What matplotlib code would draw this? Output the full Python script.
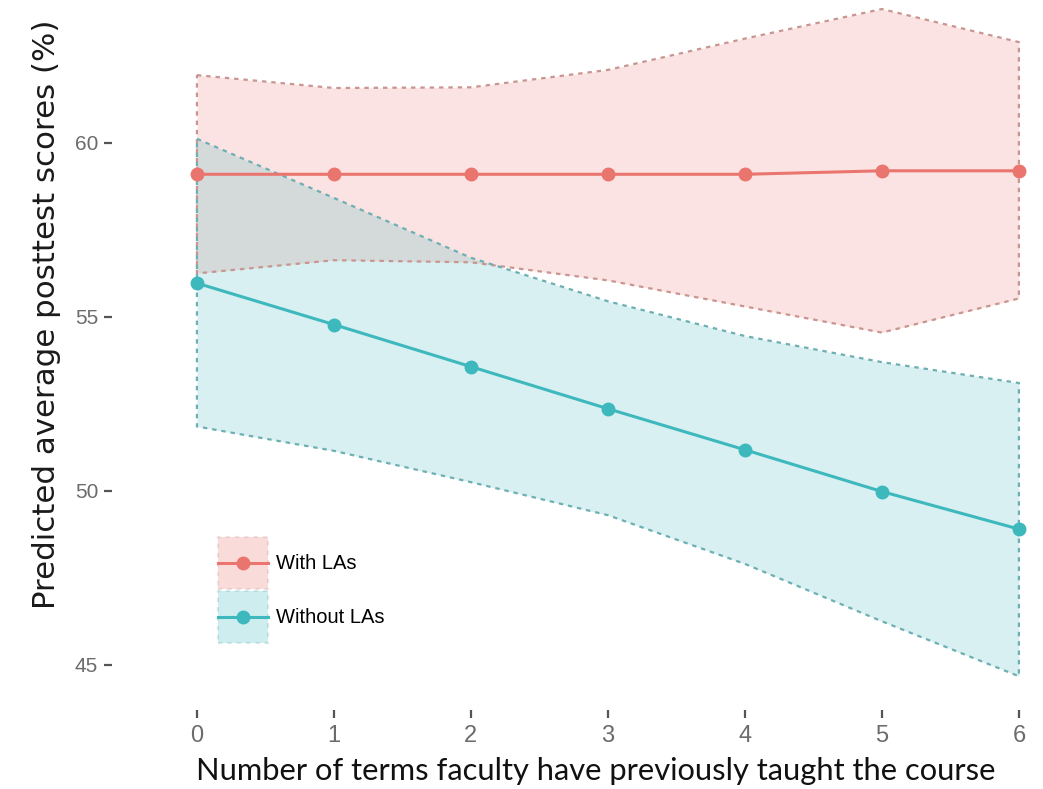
import matplotlib
matplotlib.use("Agg")
from matplotlib import pyplot as plt
from matplotlib.lines import Line2D
from matplotlib.patches import Patch
from matplotlib.legend_handler import HandlerLine2D

# Predicted posttest scores with 95% bands, by group
terms = [0, 1, 2, 3, 4, 5, 6]

with_mean = [59.1, 59.1, 59.1, 59.1, 59.1, 59.2, 59.2]
with_upper = [61.95, 61.58, 61.6, 62.1, 63.0, 63.85, 62.9]
with_lower = [56.25, 56.63, 56.57, 56.05, 55.3, 54.55, 55.53]

without_mean = [55.97, 54.78, 53.57, 52.36, 51.18, 49.98, 48.9]
without_upper = [60.12, 58.42, 56.7, 55.45, 54.45, 53.7, 53.1]
without_lower = [51.85, 51.15, 50.25, 49.3, 47.9, 46.25, 44.67]

labels = ["With LAs", "Without LAs"]
y_ticks = [45, 50, 55, 60]

red = "#E9756E"
teal = "#3DB8BD"
red_edge = "#C99590"
teal_edge = "#6DAFB3"


class CenteredLine(HandlerLine2D):
    # put the legend line in the middle of the key box
    def create_artists(self, legend, orig_handle, xdescent, ydescent,
                       width, height, fontsize, trans):
        artists = super().create_artists(legend, orig_handle, xdescent, ydescent,
                                         width, height, fontsize, trans)
        for a in artists:
            a.set_ydata([height / 2 - ydescent] * len(a.get_ydata()))
        return artists


W, H = 1043, 789
fig = plt.figure(figsize=(W / 100, H / 100), dpi=100)
fig.patch.set_facecolor("white")
# panel runs past the right and top edges of the canvas
ax = fig.add_axes([112 / W, (H - 710) / H, 948 / W, 734 / H])
ax.set_facecolor("white")

series = [
    (with_mean, with_upper, with_lower, red, red_edge),
    (without_mean, without_upper, without_lower, teal, teal_edge),
]

for mean, upper, lower, col, edge in series:
    ax.fill_between(terms, lower, upper, color=col, alpha=0.2, linewidth=0)
    band_x = terms + terms[::-1] + [terms[0]]
    band_y = upper + lower[::-1] + [upper[0]]
    ax.plot(band_x, band_y, color=edge, linewidth=1.6, linestyle=(0, (2, 2.2)))

for mean, upper, lower, col, edge in series:
    ax.plot(terms, mean, color=col, linewidth=2.2, marker="o", markersize=9)

ax.set_xlim(-0.62, 6.3)
ax.set_ylim(43.7, 64.8)
ax.set_xticks(terms)
ax.set_yticks(y_ticks)
for s in ax.spines.values():
    s.set_visible(False)
ax.tick_params(axis="both", color="#555555", width=1.6, length=6)
ax.tick_params(axis="y", labelcolor="#6b6b6b", labelsize=15, pad=4)
ax.tick_params(axis="x", labelcolor="#6b6b6b", labelsize=17, pad=5)
for t in ax.get_xticklabels():
    t.set_family(["Liberation Sans Narrow", "Liberation Sans", "DejaVu Sans"])
for t in ax.get_yticklabels():
    t.set_family(["Liberation Sans", "DejaVu Sans"])

fig.text(47 / W, 1 - 314 / H, "Predicted average posttest scores (%)",
         rotation=90, ha="center", va="center", fontsize=22.2,
         family=["DejaVu Sans"], color="#1a1a1a")
fig.text(596 / W, 1 - 771 / H, "Number of terms faculty have previously taught the course",
         ha="center", va="center", fontsize=22.2, family=["Lato", "DejaVu Sans"],
         color="#111111")

handles = []
line_handler = CenteredLine()
hmap = {}
for col, edge in [(red, red_edge), (teal, teal_edge)]:
    box = Patch(facecolor=col, alpha=0.25, edgecolor=edge, linestyle=(0, (2, 2.2)), linewidth=1.6)
    mark = Line2D([], [], color=col, linewidth=2.2, marker="o", markersize=9)
    hmap[mark] = line_handler
    handles.append((box, mark))
leg = ax.legend(handles, labels, loc="upper left", bbox_to_anchor=(218 / W, 1 - 537 / H),
                bbox_transform=fig.transFigure, frameon=False, handler_map=hmap,
                handlelength=2.5, handleheight=3.6, labelspacing=0.1,
                handletextpad=0.4, borderpad=0, borderaxespad=0,
                prop={"family": ["Liberation Sans", "DejaVu Sans"], "size": 14.5})

fig.savefig("out.png", dpi=100)
